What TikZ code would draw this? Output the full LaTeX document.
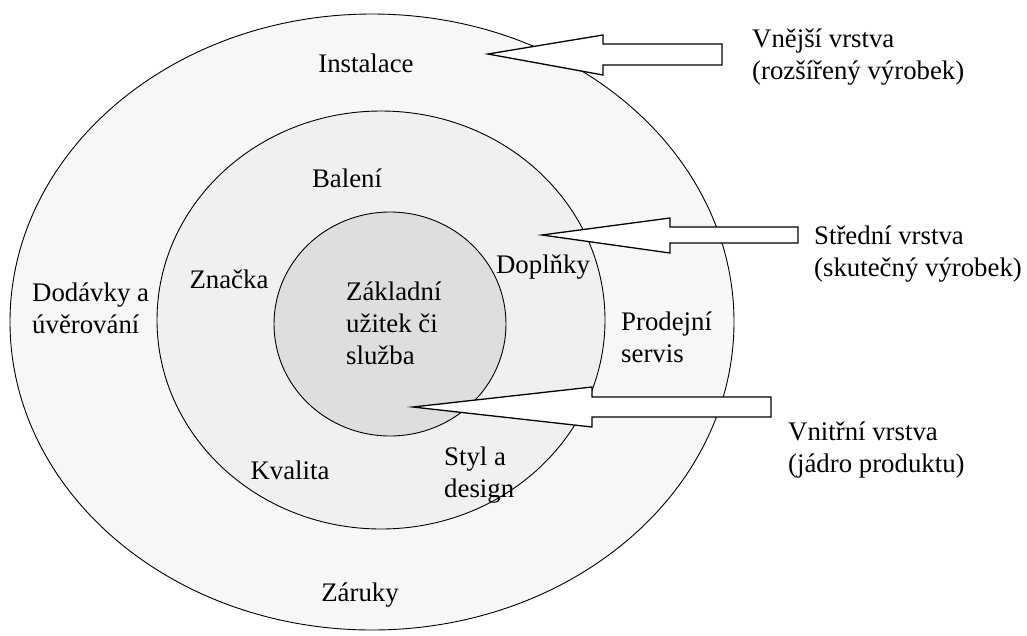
\documentclass[tikz,border=0pt]{standalone}
\usepackage{fontspec}
\setmainfont{Liberation Serif}
\usetikzlibrary{shapes.geometric}

\tikzset{
  layer/.style={ellipse, draw=black, line width=0.9pt, inner sep=0pt},
  lbl/.style={inner sep=0pt, align=left, font=\fontsize{26.8}{32}\selectfont},
  layerarrow/.style={draw=black, fill=white, line width=1.3pt, line join=miter}
}

\begin{document}
\begin{tikzpicture}[x=1pt, y=-1pt]
  \useasboundingbox (0,0) rectangle (1027,635);
  \fill[white] (0,0) rectangle (1027,635);

  % three nested layers of the product
  \node[layer, fill=black!3, minimum width=724pt, minimum height=616pt] (outer) at (372,322) {};
  \node[layer, fill=black!6, minimum width=448pt, minimum height=418pt] (middle) at (381,320) {};
  \node[layer, fill=black!13, minimum width=232pt, minimum height=224pt] (core) at (390,324) {};

  % labels inside the layers
  \node[lbl] (instalace) at (366,63) {Instalace};
  \node[lbl] (baleni) at (347,178) {Balení};
  \node[lbl] (znacka) at (229,279) {Značka};
  \node[lbl] (doplnky) at (543,267) {Doplňky};
  \node[lbl, anchor=west] (zaklad) at (346,323) {Základní\\užitek či\\služba};
  \node[lbl, anchor=west] (dodavky) at (32,308) {Dodávky a\\úvěrování};
  \node[lbl, anchor=west] (servis) at (621,337) {Prodejní\\servis};
  \node[lbl] (kvalita) at (290,470) {Kvalita};
  \node[lbl, anchor=west] (styl) at (444,475) {Styl a\\design};
  \node[lbl] (zaruky) at (360,595) {Záruky};

  % layer names on the right
  \node[lbl, anchor=west] (vnejsi) at (752,57) {Vnější vrstva\\(rozšířený výrobek)};
  \node[lbl, anchor=west] (stredni) at (814,254) {Střední vrstva\\(skutečný výrobek)};
  \node[lbl, anchor=west] (vnitrni) at (788,450) {Vnitřní vrstva\\(jádro produktu)};

  % block arrows pointing into each layer
  \draw[layerarrow] (488,54) -- (603,35) -- (603,44) -- (722,44) -- (722,65)
    -- (603,65) -- (603,75) -- cycle;
  \draw[layerarrow] (542,235) -- (670,218) -- (670,227) -- (798,227) -- (798,243)
    -- (670,243) -- (670,253) -- cycle;
  \draw[layerarrow] (413,407) -- (592,387) -- (592,397) -- (771,397) -- (771,417)
    -- (592,417) -- (592,427) -- cycle;
\end{tikzpicture}
\end{document}
